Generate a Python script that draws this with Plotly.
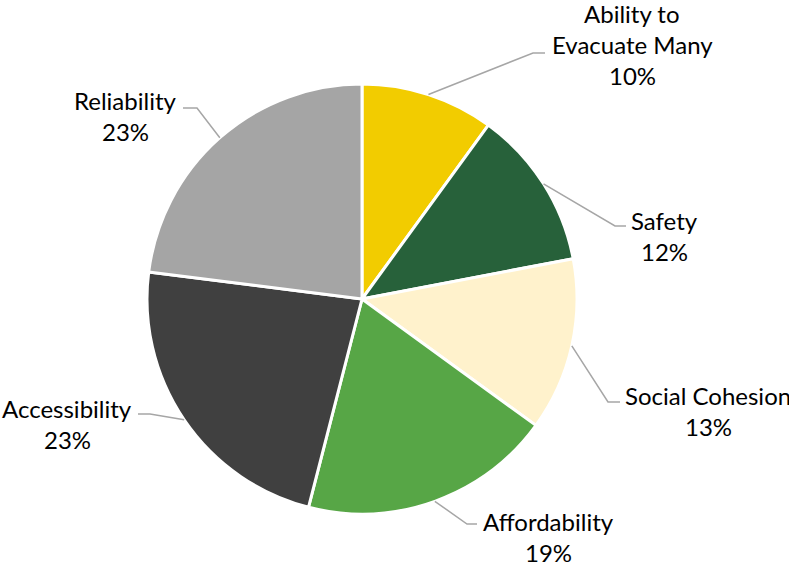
import math
import plotly.graph_objects as go

# ---- data ----
categories = ["Ability to Evacuate Many", "Safety", "Social Cohesion",
              "Affordability", "Accessibility", "Reliability"]
label_lines = [["Ability to", "Evacuate Many"], ["Safety"], ["Social Cohesion"],
               ["Affordability"], ["Accessibility"], ["Reliability"]]
shares = [10, 12, 13, 19, 23, 23]
colors = ["#F2CC00", "#27613A", "#FFF2CC", "#57A646", "#404040", "#A5A5A5"]

# ---- layout constants (pixels) ----
W, H = 789, 564
CX, CY, R = 362, 299, 215
FONT = "Lato"
FS = 24
LINE_H = 31
# label block first-line centre, leader elbow, leader end
label_pos = [(632, 14), (664, 220), (708, 395), (548, 521), (67, 408), (125, 100)]
elbows = [((533, 53), (545, 53)), ((615, 226), (626, 226)), ((608, 402), (620, 402)),
          ((467, 524), (477, 524)), ((150, 414), (138, 414)), ((197, 108), (183, 108))]


def px(x):
    return x / W


def py(y):
    return 1 - y / H


fig = go.Figure()
fig.add_trace(go.Pie(
    labels=categories, values=shares, sort=False, direction="clockwise", rotation=0,
    marker=dict(colors=colors, line=dict(color="white", width=3)),
    textinfo="none", hoverinfo="label+percent", showlegend=False,
    domain=dict(x=[px(CX - R), px(CX + R)], y=[py(CY + R), py(CY - R)]),
))

total = sum(shares)
cum = 0
annotations = []
shapes = []
for i, v in enumerate(shares):
    mid = (cum + v / 2) / total * 2 * math.pi
    cum += v
    sx = CX + R * math.sin(mid)
    sy = CY - R * math.cos(mid)
    (ex, ey), (fx, fy) = elbows[i]
    shapes.append(dict(
        type="path", xref="paper", yref="paper",
        path=f"M {px(sx)},{py(sy)} L {px(ex)},{py(ey)} L {px(fx)},{py(fy)}",
        line=dict(color="#A6A6A6", width=1.5)))
    lx, ly = label_pos[i]
    lines = label_lines[i] + [f"{round(v / total * 100)}%"]
    for j, t in enumerate(lines):
        annotations.append(dict(
            x=px(lx), y=py(ly + j * LINE_H), xref="paper", yref="paper",
            text=t, showarrow=False, xanchor="center", yanchor="middle",
            font=dict(family=FONT, size=FS, color="#000000")))

fig.update_layout(
    width=W, height=H, margin=dict(l=0, r=0, t=0, b=0),
    paper_bgcolor="white", plot_bgcolor="white",
    annotations=annotations, shapes=shapes,
)
fig.write_html("out.html", config={"displayModeBar": False},
               post_script="document.body.style.margin='0';")
